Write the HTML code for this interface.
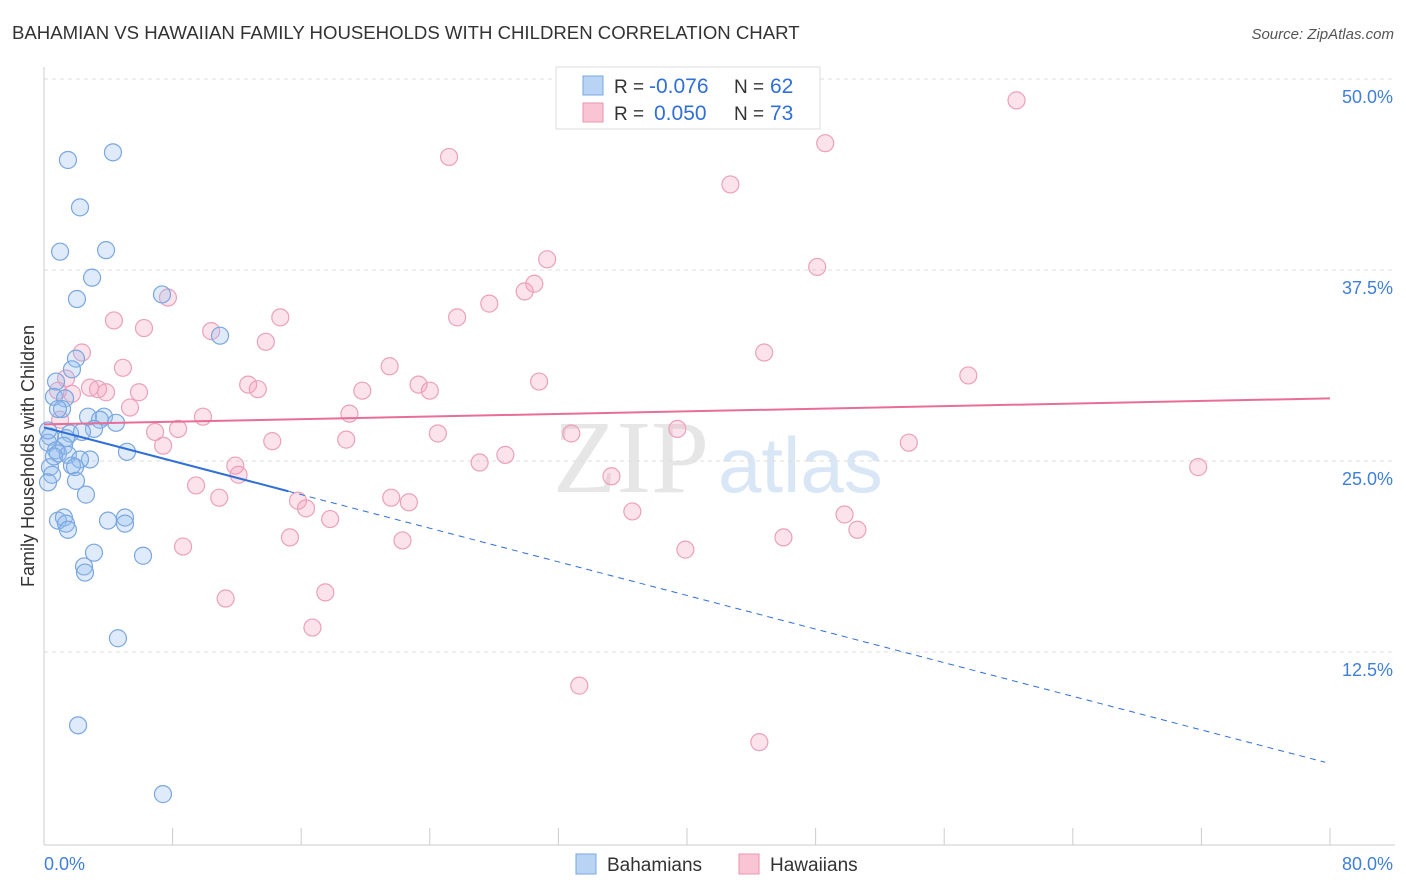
<!DOCTYPE html>
<html><head><meta charset="utf-8">
<style>
body{margin:0;background:#fff;font-family:"Liberation Sans",sans-serif;}
#wrap{position:relative;width:1406px;height:892px;overflow:hidden;}
</style></head>
<body>
<div id="wrap">
<svg id="chart" width="1406" height="892">
<text x="12" y="39" font-size="18.6" fill="#333">BAHAMIAN VS HAWAIIAN FAMILY HOUSEHOLDS WITH CHILDREN CORRELATION CHART</text>
<text x="1394" y="39" font-size="15" fill="#555" text-anchor="end" font-style="italic">Source: ZipAtlas.com</text>
<text x="553" y="492" font-size="104" fill="#e6e6e6" font-family="Liberation Serif">ZIP</text>
<text x="718" y="492" font-size="78" fill="#d8e6f5">atlas</text>
<text x="34" y="456" font-size="18" fill="#333" text-anchor="middle" transform="rotate(-90 34 456)">Family Households with Children</text>
<g id="grid"></g>
<g id="pts"></g>
<g id="lines"></g>
<g>
<rect x="556" y="67" width="264" height="62" fill="#fff" stroke="#ddd"/>
<rect x="583" y="76" width="20" height="19" fill="#b9d3f5" stroke="#7aa7e0"/>
<rect x="583" y="103" width="20" height="19" fill="#f9c5d5" stroke="#ec93ae"/>
<text x="614" y="93" font-size="19" fill="#333">R =</text>
<text x="649" y="93" font-size="21" fill="#2f6fd6">-0.076</text>
<text x="734" y="93" font-size="19" fill="#333">N =</text>
<text x="770" y="93" font-size="21" fill="#2f6fd6">62</text>
<text x="614" y="120" font-size="19" fill="#333">R =</text>
<text x="654" y="120" font-size="21" fill="#2f6fd6">0.050</text>
<text x="734" y="120" font-size="19" fill="#333">N =</text>
<text x="770" y="120" font-size="21" fill="#2f6fd6">73</text>
</g>
<g>
<rect x="576" y="854" width="20" height="20" fill="#b9d3f5" stroke="#7aa7e0"/>
<text x="607" y="871" font-size="19" fill="#333">Bahamians</text>
<rect x="739" y="854" width="20" height="20" fill="#f9c5d5" stroke="#ec93ae"/>
<text x="770" y="871" font-size="19" fill="#333">Hawaiians</text>
</g>
</svg>
</div>
<script>
const yTicks=[12.5,25,37.5,50];
const yTickLabels=["12.5%","25.0%","37.5%","50.0%"];
const xTickVals=[0,8,16,24,32,40,48,56,64,72,80];
const blueX=[1.49,4.29,2.24,1.0,3.86,2.99,2.05,7.34,10.95,1.99,1.74,0.75,0.62,1.31,1.12,0.87,2.74,3.73,3.48,4.48,3.11,1.62,0.37,1.37,0.25,1.24,0.75,0.87,1.49,2.86,2.24,1.74,1.93,5.16,0.37,0.5,0.25,1.99,2.61,0.87,1.24,1.37,1.49,3.98,5.04,5.04,3.11,6.16,2.49,2.55,4.6,2.12,7.4,0.25,2.36,0.62];
const blueY=[44.7,45.2,41.6,38.7,38.8,37.0,35.6,35.9,33.2,31.7,31.0,30.2,29.2,29.1,28.4,28.4,27.9,27.9,27.7,27.5,27.1,26.8,26.6,26.5,26.2,26.0,25.7,25.5,25.4,25.1,25.1,24.7,24.6,25.6,24.6,24.1,23.6,23.7,22.8,21.1,21.3,20.9,20.5,21.1,21.3,20.9,19.0,18.8,18.1,17.7,13.4,7.7,3.2,27.0,26.9,25.3];
const pinkX=[60.5,25.2,48.6,42.7,31.3,48.1,30.5,29.9,27.7,7.71,25.7,14.7,4.35,6.22,10.4,13.8,2.36,44.8,21.5,4.91,1.37,30.8,57.5,12.7,13.3,23.3,2.86,3.36,3.86,5.91,19.8,24.0,1.74,0.87,5.35,19.0,9.89,1.0,8.34,6.91,24.5,32.8,39.4,18.8,14.2,53.8,7.41,28.7,27.1,11.9,12.1,71.8,35.3,9.46,10.9,21.6,22.7,15.8,16.3,36.6,49.8,17.8,50.6,46.0,15.3,22.3,39.9,8.65,17.5,11.3,16.7,33.3,44.5];
const pinkY=[48.6,44.9,45.8,43.1,38.2,37.7,36.6,36.1,35.3,35.7,34.4,34.4,34.2,33.7,33.5,32.8,32.1,32.1,31.2,31.1,30.4,30.2,30.6,30.0,29.7,30.0,29.8,29.7,29.5,29.5,29.6,29.6,29.4,29.6,28.5,28.1,27.9,27.7,27.1,26.9,26.8,26.8,27.1,26.4,26.3,26.2,26.0,25.4,24.9,24.7,24.1,24.6,24.0,23.4,22.6,22.6,22.3,22.4,21.9,21.7,21.5,21.2,20.5,20.0,20.0,19.8,19.2,19.4,16.4,16.0,14.1,10.3,6.6];
const blueTrend=[27.2,-0.275,15.2,79.7];
const pinkTrend=[27.4,29.1];

const NS="http://www.w3.org/2000/svg";
const X=v=>44+v*16.075, Y=v=>843-v*15.28;
function mk(tag,attrs,parent){const e=document.createElementNS(NS,tag);for(const k in attrs)e.setAttribute(k,attrs[k]);parent.appendChild(e);return e;}
const grid=document.getElementById('grid'),pts=document.getElementById('pts'),lines=document.getElementById('lines');
yTicks.forEach((t,i)=>{
 const l=mk('line',{x1:44,x2:1395,y1:Y(t),y2:Y(t),stroke:'#ddd','stroke-dasharray':'4,4'},grid);
 
 
 const tx=mk('text',{x:1393,y:Y(t)+24,'font-size':18,fill:'#3f7fd8','text-anchor':'end'},grid);
 tx.textContent=yTickLabels[i];
 
 
});
const ax=mk('line',{x1:44,x2:1395,y1:845,y2:845,stroke:'#ccc'},grid);


const ay=mk('line',{x1:44,x2:44,y1:67,y2:845,stroke:'#ccc'},grid);


xTickVals.forEach(v=>{
 const t=mk('line',{x1:X(v),x2:X(v),y1:828,y2:845,stroke:'#ccc'},grid);
 
 
});
const xl0=mk('text',{x:44,y:870,'font-size':18,fill:'#3f7fd8'},grid);xl0.textContent='0.0%';


const xl1=mk('text',{x:1393,y:870,'font-size':18,fill:'#3f7fd8','text-anchor':'end'},grid);xl1.textContent='80.0%';


pinkX.forEach((x,i)=>{
 const c=mk('circle',{cx:X(x),cy:Y(pinkY[i]),r:8.5,fill:'rgba(244,160,190,0.3)',stroke:'#eba1ba','stroke-width':1.2},pts);
 
 
});
blueX.forEach((x,i)=>{
 const c=mk('circle',{cx:X(x),cy:Y(blueY[i]),r:8.5,fill:'rgba(150,190,240,0.3)',stroke:'#7aa7e0','stroke-width':1.2},pts);
 
 
});
const bf=v=>blueTrend[0]+blueTrend[1]*v;
const b1=mk('line',{x1:X(0),y1:Y(bf(0)),x2:X(blueTrend[2]),y2:Y(bf(blueTrend[2])),stroke:'#2f6fd6','stroke-width':2},lines);


const b2=mk('line',{x1:X(blueTrend[2]),y1:Y(bf(blueTrend[2])),x2:X(blueTrend[3]),y2:Y(bf(blueTrend[3])),stroke:'#2f6fd6','stroke-width':1,'stroke-dasharray':'6,5'},lines);


const p1=mk('line',{x1:X(0),y1:Y(pinkTrend[0]),x2:X(80),y2:Y(pinkTrend[1]),stroke:'#e86e96','stroke-width':2},lines);


</script>
</body></html>
